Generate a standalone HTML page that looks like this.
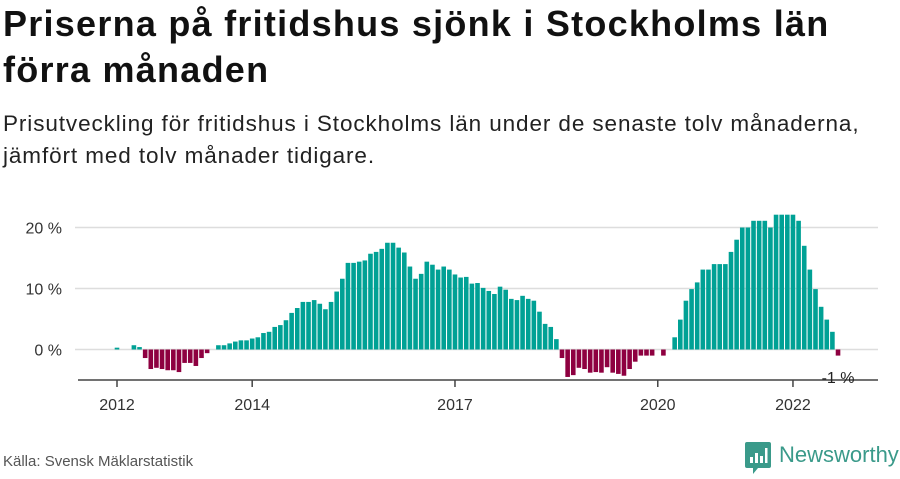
<!DOCTYPE html>
<html><head><meta charset="utf-8"><style>
body{margin:0;background:#fff;width:900px;height:474px;overflow:hidden;font-family:"Liberation Sans",sans-serif;}
.t{position:absolute;left:3px;color:#111;white-space:nowrap;}
</style></head><body>
<div class="t" style="top:1px;font-size:36px;font-weight:bold;line-height:46px;letter-spacing:1.25px">Priserna på fritidshus sjönk i Stockholms län<br>förra månaden</div>
<div class="t" style="top:108px;font-size:22.5px;line-height:32px;color:#222;letter-spacing:0.9px">Prisutveckling för fritidshus i Stockholms län under de senaste tolv månaderna,<br>jämfört med tolv månader tidigare.</div>
<svg id="chart" width="900" height="474" style="position:absolute;left:0;top:0" font-family="Liberation Sans, sans-serif"></svg>
<div style="position:absolute;left:3px;top:453px;font-size:15px;color:#555">Källa: Svensk Mäklarstatistik</div>
<div style="position:absolute;left:745px;top:442px;">
<svg width="26" height="32"><path d="M2 0h22a2 2 0 0 1 2 2v22a2 2 0 0 1-2 2H13l-5 6v-6H2a2 2 0 0 1-2-2V2a2 2 0 0 1 2-2z" fill="#3a9a8a"/><rect x="5" y="15" width="3" height="6" fill="#fff"/><rect x="10" y="11" width="3" height="10" fill="#fff"/><rect x="15" y="14" width="3" height="7" fill="#fff"/><rect x="20" y="6" width="2.5" height="15" fill="#fff"/></svg>
<span style="position:absolute;left:34px;top:0px;font-size:22px;color:#3a9a8a;white-space:nowrap">Newsworthy</span>
</div>
<script>
const values=[0.3,0,0,0.7,0.4,-1.4,-3.2,-3.0,-3.2,-3.4,-3.4,-3.7,-2.2,-2.2,-2.7,-1.4,-0.6,0,
0.7,0.7,1.0,1.3,1.5,1.5,1.8,2.0,2.7,2.9,3.7,4.0,4.8,6.0,6.8,7.8,7.8,8.1,7.5,6.6,7.8,9.5,11.6,14.2,14.2,14.4,14.6,15.7,16.0,
16.5,17.5,17.5,16.7,15.9,13.6,11.6,12.4,14.4,13.9,13.1,13.6,13.1,12.3,11.8,11.9,10.8,10.9,10.1,9.6,9.1,10.3,9.8,8.3,8.1,8.8,8.3,8.0,6.2,4.2,3.7,1.7,
-1.4,-4.5,-4.2,-3.0,-3.2,-3.8,-3.7,-3.8,-2.9,-3.8,-4.0,-4.3,-3.2,-2.0,-1.0,-1.0,-1.0,0,-1.0,0,
2.0,4.9,8.0,9.9,11.0,13.1,13.1,14.0,14.0,14.0,16.0,18.0,20.0,20.0,21.1,21.1,21.1,20.0,22.1,22.1,22.1,22.1,21.1,17.0,13.1,9.9,7.0,4.9,2.9,-1.0];
const startYear=2012;
const yTicks=[0,10,20];
const xTickYears=[2012,2014,2017,2020,2022];
const lastLabel="-1 %";
const svg=document.getElementById('chart');
const NS='http://www.w3.org/2000/svg';
const x=i=>117+i*5.633;
const y=v=>349.5-v*6.1;
function mk(t,a){const e=document.createElementNS(NS,t);for(const k in a)e.setAttribute(k,a[k]);svg.appendChild(e);return e;}
yTicks.forEach(t=>{
 const g=mk('line',{x1:75,x2:878,y1:y(t),y2:y(t),stroke:'#ddd','stroke-width':1.5});
 
 
 const l=mk('text',{x:62,y:y(t)+6,'text-anchor':'end','font-size':16,fill:'#333'});
 l.textContent=t+' %';
 
 
});
values.forEach((v,i)=>{
 if(v===0)return;
 const r=mk('rect',{x:x(i)-2.3,width:4.6,y:Math.min(y(v),y(0)),height:Math.abs(y(v)-y(0)),fill:v>0?'#00a195':'#8e0040'});
 
 
});
const ax=mk('line',{x1:78,x2:878,y1:380,y2:380,stroke:'#444','stroke-width':1.5});


xTickYears.forEach(yr=>{
 const xi=x((yr-startYear)*12);
 const t=mk('line',{x1:xi,x2:xi,y1:380,y2:387,stroke:'#444','stroke-width':1.5});
 
 
 const l=mk('text',{x:xi,y:410,'text-anchor':'middle','font-size':16,fill:'#333'});
 l.textContent=yr;
 
 
});
const bg=mk('rect',{x:x(values.length-1)-20,y:368,width:40,height:11,fill:'#fff'});


const ll=mk('text',{x:x(values.length-1),y:383,'text-anchor':'middle','font-size':16,fill:'#222'});
ll.textContent=lastLabel;


</script>
</body></html>
